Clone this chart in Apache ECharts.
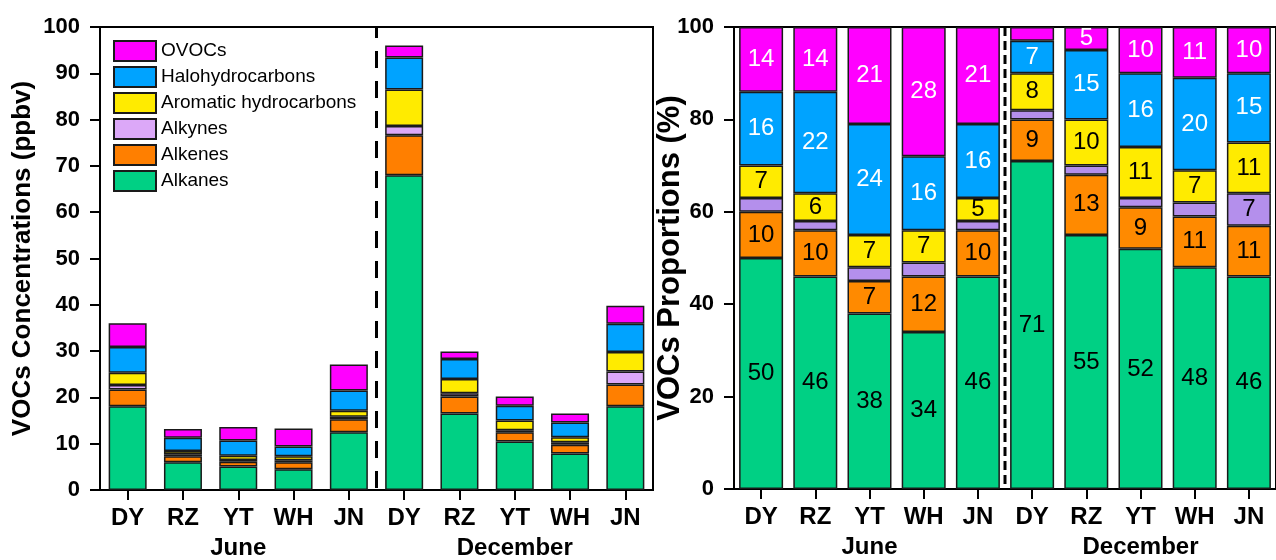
<!DOCTYPE html>
<html>
<head>
<meta charset="utf-8">
<script src="https://cdn.jsdelivr.net/npm/echarts@6/dist/echarts.min.js"></script>
<style>
  html, body { margin: 0; padding: 0; background: #fff; }
  #chart { width: 1276px; height: 560px; }
</style>
</head>
<body>
<div id="chart"></div>
<script>
// Sites and sampling months
const sites = ['DY', 'RZ', 'YT', 'WH', 'JN'];
const months = ['June', 'December'];

// Concentrations (ppbv), June sites followed by December sites
const concAlkanes   = [18.1, 6.0, 5.1, 4.5, 12.5, 68.0, 16.5, 10.5, 7.9, 18.1];
const concAlkenes   = [3.6, 1.3, 1.0, 1.5, 2.8, 8.6, 3.7, 2.0, 1.9, 4.7];
const concAlkynes   = [1.0, 0.4, 0.4, 0.4, 0.5, 2.0, 0.7, 0.4, 0.5, 2.8];
const concAromatics = [2.6, 0.7, 0.9, 0.9, 1.3, 7.9, 3.1, 2.1, 1.1, 4.2];
const concHalo      = [5.6, 2.9, 3.3, 2.1, 4.4, 6.9, 4.3, 3.2, 3.2, 6.1];
const concOVOCs     = [5.1, 1.9, 2.9, 3.9, 5.6, 2.6, 1.6, 2.0, 1.9, 3.9];

// Proportions (%), same order
const propAlkanes   = [50, 46, 38, 34, 46, 71, 55, 52, 48, 46];
const propAlkenes   = [10, 10, 7, 12, 10, 9, 13, 9, 11, 11];
const propAlkynes   = [3, 2, 3, 3, 2, 2, 2, 2, 3, 7];
const propAromatics = [7, 6, 7, 7, 5, 8, 10, 11, 7, 11];
const propHalo      = [16, 22, 24, 16, 16, 7, 15, 16, 20, 15];
const propOVOCs     = [14, 14, 21, 28, 21, 3, 5, 10, 11, 10];

// Tick values of the two y axes
const concTicks = { min: 0, max: 100, interval: 10 };
const propTicks = { min: 0, max: 100, interval: 20 };

// Position of the dashed June/December divider on a 0..10 helper scale
const dividerPos = 5;

const categories = [];
months.forEach(m => sites.forEach(s => categories.push(m + '|' + s)));

const FONT = "'Liberation Sans', Arial, sans-serif";

const groups = [
  { name: 'Alkanes', conc: concAlkanes, prop: propAlkanes, left: '#00D084', right: '#00D084', txt: '#000' },
  { name: 'Alkenes', conc: concAlkenes, prop: propAlkenes, left: '#FF7F00', right: '#FF8A00', txt: '#000' },
  { name: 'Alkynes', conc: concAlkynes, prop: propAlkynes, left: '#DCA8F8', right: '#B48FEC', txt: '#000' },
  { name: 'Aromatic hydrocarbons', conc: concAromatics, prop: propAromatics, left: '#FFEB00', right: '#FFEB00', txt: '#000' },
  { name: 'Halohydrocarbons', conc: concHalo, prop: propHalo, left: '#00A3FF', right: '#00A3FF', txt: '#fff' },
  { name: 'OVOCs', conc: concOVOCs, prop: propOVOCs, left: '#FF00FF', right: '#FF00FF', txt: '#fff' }
];

const grids = [
  { left: 100, top: 27, width: 553, height: 463 },
  { left: 734, top: 27, width: 553, height: 462 }
];

function siteAxis(gridIndex) {
  return {
    type: 'category', gridIndex, data: categories, position: 'bottom',
    axisLine: { show: true, lineStyle: { color: '#000', width: 2 } },
    axisTick: { show: true, alignWithLabel: true, inside: false, length: 10, lineStyle: { color: '#000', width: 2 } },
    axisLabel: {
      margin: 16, color: '#000', fontFamily: FONT, fontWeight: 'bold', fontSize: 24,
      formatter: v => v.split('|')[1]
    }
  };
}
function monthAxis(gridIndex) {
  return {
    type: 'category', gridIndex, data: months, position: 'bottom',
    axisLine: { show: false }, axisTick: { show: false },
    axisLabel: { margin: 46, color: '#000', fontFamily: FONT, fontWeight: 'bold', fontSize: 24 }
  };
}
function helperAxis(gridIndex) {
  return { type: 'value', gridIndex, min: 0, max: 10, show: false };
}
function valueAxis(gridIndex, ticks, name, nameGap, nameSize, moveOverlap) {
  return {
    type: 'value', gridIndex, min: ticks.min, max: ticks.max, interval: ticks.interval,
    name, nameLocation: 'middle', nameGap, nameMoveOverlap: moveOverlap,
    nameTextStyle: { color: '#000', fontFamily: FONT, fontWeight: 'bold', fontSize: nameSize },
    axisLine: { show: true, lineStyle: { color: '#000', width: 2 } },
    axisTick: { show: true, inside: false, length: 10, lineStyle: { color: '#000', width: 2 } },
    axisLabel: { margin: 20, color: '#000', fontFamily: FONT, fontWeight: 'bold', fontSize: 22 },
    splitLine: { show: false }
  };
}

const series = [];
groups.forEach(g => {
  series.push({
    name: g.name, type: 'bar', stack: 'conc', xAxisIndex: 0, yAxisIndex: 0,
    barWidth: 38, data: g.conc,
    itemStyle: { color: g.left, borderColor: '#1a1a1a', borderWidth: 1.5 }
  });
});
groups.forEach(g => {
  series.push({
    name: g.name, type: 'bar', stack: 'prop', xAxisIndex: 3, yAxisIndex: 1,
    barWidth: 44, data: g.prop,
    itemStyle: { color: g.right, borderColor: '#1a1a1a', borderWidth: 1.5 },
    label: {
      show: true, position: 'inside', color: g.txt, fontFamily: FONT, fontSize: 24,
      formatter: p => (p.value >= 4 ? String(p.value) : '')
    }
  });
});
// Dashed dividers between the June and December groups
series.push({
  name: 'divider-left', type: 'line', xAxisIndex: 2, yAxisIndex: 0, silent: true,
  symbol: 'none', data: [[dividerPos, concTicks.max], [dividerPos, concTicks.min]],
  lineStyle: { color: '#000', width: 3, type: [17, 13], dashOffset: 6 }, z: 5
});
series.push({
  name: 'divider-right', type: 'line', xAxisIndex: 5, yAxisIndex: 1, silent: true,
  symbol: 'none', data: [[dividerPos, propTicks.max], [dividerPos, propTicks.min]],
  lineStyle: { color: '#000', width: 3, type: [9, 5] }, z: 5
});

const chart = echarts.init(document.getElementById('chart'), null, { renderer: 'canvas' });
chart.setOption({
  animation: false,
  backgroundColor: '#fff',
  textStyle: { fontFamily: FONT },
  grid: grids.map(g => Object.assign({ show: true, borderColor: '#000', borderWidth: 2, backgroundColor: 'transparent', containLabel: false }, g)),
  legend: {
    data: ['OVOCs', 'Halohydrocarbons', 'Aromatic hydrocarbons', 'Alkynes', 'Alkenes', 'Alkanes'],
    orient: 'vertical', left: 113, top: 40, padding: 0,
    itemWidth: 42, itemHeight: 20, itemGap: 4, icon: 'rect',
    textStyle: { color: '#000', fontFamily: FONT, fontSize: 19 }
  },
  xAxis: [siteAxis(0), monthAxis(0), helperAxis(0), siteAxis(1), monthAxis(1), helperAxis(1)],
  yAxis: [
    valueAxis(0, concTicks, 'VOCs Concentrations (ppbv)', 64, 26, true),
    valueAxis(1, propTicks, 'VOCs Proportions (%)', 48, 31, false)
  ],
  series
});
</script>
</body>
</html>
